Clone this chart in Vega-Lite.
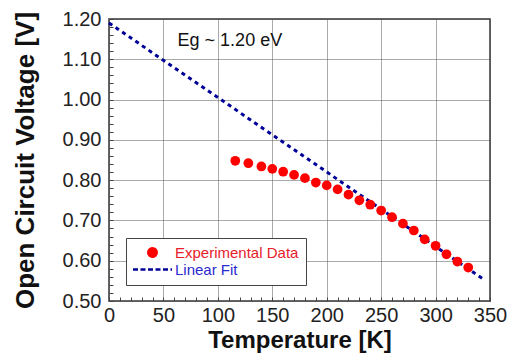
{
  "$schema": "https://vega.github.io/schema/vega-lite/v6.json",
  "autosize": "none",
  "width": 381,
  "height": 282,
  "padding": {"left": 109, "top": 19, "right": 20, "bottom": 53},
  "background": "white",
  "config": {
    "view": {"stroke": "#333333", "strokeWidth": 1.5},
    "font": "Liberation Sans"
  },
  "datasets": {
    "exp": [
      {"T": 116, "V": 0.848, "series": "Experimental Data"},
      {"T": 128, "V": 0.842, "series": "Experimental Data"},
      {"T": 140, "V": 0.834, "series": "Experimental Data"},
      {"T": 150, "V": 0.828, "series": "Experimental Data"},
      {"T": 160, "V": 0.821, "series": "Experimental Data"},
      {"T": 170, "V": 0.813, "series": "Experimental Data"},
      {"T": 180, "V": 0.805, "series": "Experimental Data"},
      {"T": 190, "V": 0.794, "series": "Experimental Data"},
      {"T": 200, "V": 0.787, "series": "Experimental Data"},
      {"T": 210, "V": 0.777, "series": "Experimental Data"},
      {"T": 220, "V": 0.764, "series": "Experimental Data"},
      {"T": 230, "V": 0.750, "series": "Experimental Data"},
      {"T": 240, "V": 0.739, "series": "Experimental Data"},
      {"T": 250, "V": 0.7245, "series": "Experimental Data"},
      {"T": 260, "V": 0.708, "series": "Experimental Data"},
      {"T": 270, "V": 0.692, "series": "Experimental Data"},
      {"T": 280, "V": 0.675, "series": "Experimental Data"},
      {"T": 290, "V": 0.653, "series": "Experimental Data"},
      {"T": 300, "V": 0.637, "series": "Experimental Data"},
      {"T": 310, "V": 0.616, "series": "Experimental Data"},
      {"T": 320, "V": 0.598, "series": "Experimental Data"},
      {"T": 330, "V": 0.583, "series": "Experimental Data"}
    ],
    "fit": [
      {"T": 0, "V": 1.19, "series": "Linear Fit"},
      {"T": 344, "V": 0.554, "series": "Linear Fit"}
    ],
    "note": [
      {"label": "Eg ~ 1.20 eV"}
    ]
  },
  "layer": [
    {
      "encoding": {
        "x": {
          "field": "T", "type": "quantitative",
          "scale": {"domain": [0, 350], "nice": false, "zero": false},
          "axis": {
            "title": "Temperature [K]",
            "titleFontSize": 24, "titleFontWeight": "bold", "titleColor": "#111111", "titlePadding": 3,
            "values": [0,10,20,30,40,50,60,70,80,90,100,110,120,130,140,150,160,170,180,190,200,210,220,230,240,250,260,270,280,290,300,310,320,330,340,350],
            "labelExpr": "datum.value % 50 === 0 ? datum.label : ''",
            "labelOverlap": false, "labelFlush": false,
            "labelFontSize": 20, "labelColor": "#222222", "labelPadding": 8,
            "tickSize": -4, "tickColor": "#444444", "tickWidth": 1,
            "domain": false,
            "grid": true, "gridColor": "#555555", "gridDash": [1, 1], "gridWidth": 1,
            "gridOpacity": {"condition": {"test": "datum.value % 50 !== 0", "value": 0}, "value": 1}
          }
        },
        "y": {
          "field": "V", "type": "quantitative",
          "scale": {"domain": [0.5, 1.2], "nice": false, "zero": false},
          "axis": {
            "title": "Open Circuit Voltage [V]",
            "titleFontSize": 26, "titleFontWeight": "bold", "titleColor": "#111111", "titlePadding": 24,
            "values": [0.5,0.52,0.54,0.56,0.58,0.6,0.62,0.64,0.66,0.68,0.7,0.72,0.74,0.76,0.78,0.8,0.82,0.84,0.86,0.88,0.9,0.92,0.94,0.96,0.98,1.0,1.02,1.04,1.06,1.08,1.1,1.12,1.14,1.16,1.18,1.2],
            "labelExpr": "round(datum.value * 100) % 10 === 0 ? format(datum.value, '.2f') : ''",
            "labelOverlap": false, "labelFlush": false,
            "labelFontSize": 20, "labelColor": "#222222", "labelPadding": 12,
            "tickSize": -4, "tickColor": "#444444", "tickWidth": 1,
            "domain": false,
            "grid": true, "gridColor": "#555555", "gridDash": [1, 1], "gridWidth": 1,
            "gridOpacity": {"condition": {"test": "round(datum.value * 100) % 10 !== 0", "value": 0}, "value": 1}
          }
        }
      },
      "layer": [
        {
          "data": {"name": "fit"},
          "mark": {"type": "line", "strokeDash": [4, 4], "strokeWidth": 3},
          "encoding": {
            "color": {
              "field": "series", "type": "nominal",
              "scale": {"domain": ["Experimental Data", "Linear Fit"], "range": ["#ff0000", "#000099"]},
              "legend": {
                "title": null,
                "orient": "none", "legendX": 17, "legendY": 219,
                "direction": "vertical",
                "fillColor": "white", "strokeColor": "#444444",
                "padding": 7,
                "labelFontSize": 15, "labelOffset": 15, "rowPadding": 0,
                "symbolOffset": 12,
                "encode": {
                  "symbols": {"update": {
                    "shape": {"signal": "datum.value === 'Linear Fit' ? 'stroke' : 'circle'"},
                    "size": {"signal": "datum.value === 'Linear Fit' ? 1521 : 70"},
                    "strokeDash": {"signal": "datum.value === 'Linear Fit' ? [5, 2.5] : [1, 0]"},
                    "fill": {"signal": "datum.value === 'Linear Fit' ? 'transparent' : '#ff0000'"},
                    "stroke": {"signal": "datum.value === 'Linear Fit' ? '#000099' : 'transparent'"},
                    "strokeWidth": {"value": 2.5},
                    "opacity": {"value": 1}
                  }},
                  "labels": {"update": {
                    "fill": {"signal": "datum.value === 'Linear Fit' ? '#2a2ad0' : '#e8202a'"}
                  }}
                }
              }
            }
          }
        },
        {
          "data": {"name": "exp"},
          "mark": {"type": "point", "filled": true, "size": 95, "opacity": 1},
          "encoding": {
            "color": {"field": "series", "type": "nominal"}
          }
        }
      ]
    },
    {
      "data": {"name": "note"},
      "mark": {"type": "text", "align": "left", "baseline": "middle", "fontSize": 18, "fill": "#111111"},
      "encoding": {
        "x": {
          "datum": 63, "type": "quantitative",
          "axis": {
            "title": "Temperature [K]",
            "titleFontSize": 24, "titleFontWeight": "bold", "titleColor": "#111111", "titlePadding": 3,
            "values": [0,10,20,30,40,50,60,70,80,90,100,110,120,130,140,150,160,170,180,190,200,210,220,230,240,250,260,270,280,290,300,310,320,330,340,350],
            "labelExpr": "datum.value % 50 === 0 ? datum.label : ''",
            "labelOverlap": false, "labelFlush": false,
            "labelFontSize": 20, "labelColor": "#222222", "labelPadding": 8,
            "tickSize": -4, "tickColor": "#444444", "tickWidth": 1,
            "domain": false,
            "grid": true, "gridColor": "#555555", "gridDash": [1, 1], "gridWidth": 1,
            "gridOpacity": {"condition": {"test": "datum.value % 50 !== 0", "value": 0}, "value": 1}
          }
        },
        "y": {
          "datum": 1.145, "type": "quantitative",
          "axis": {
            "title": "Open Circuit Voltage [V]",
            "titleFontSize": 26, "titleFontWeight": "bold", "titleColor": "#111111", "titlePadding": 24,
            "values": [0.5,0.52,0.54,0.56,0.58,0.6,0.62,0.64,0.66,0.68,0.7,0.72,0.74,0.76,0.78,0.8,0.82,0.84,0.86,0.88,0.9,0.92,0.94,0.96,0.98,1.0,1.02,1.04,1.06,1.08,1.1,1.12,1.14,1.16,1.18,1.2],
            "labelExpr": "round(datum.value * 100) % 10 === 0 ? format(datum.value, '.2f') : ''",
            "labelOverlap": false, "labelFlush": false,
            "labelFontSize": 20, "labelColor": "#222222", "labelPadding": 12,
            "tickSize": -4, "tickColor": "#444444", "tickWidth": 1,
            "domain": false,
            "grid": true, "gridColor": "#555555", "gridDash": [1, 1], "gridWidth": 1,
            "gridOpacity": {"condition": {"test": "round(datum.value * 100) % 10 !== 0", "value": 0}, "value": 1}
          }
        },
        "text": {"field": "label", "type": "nominal"}
      }
    }
  ]
}
